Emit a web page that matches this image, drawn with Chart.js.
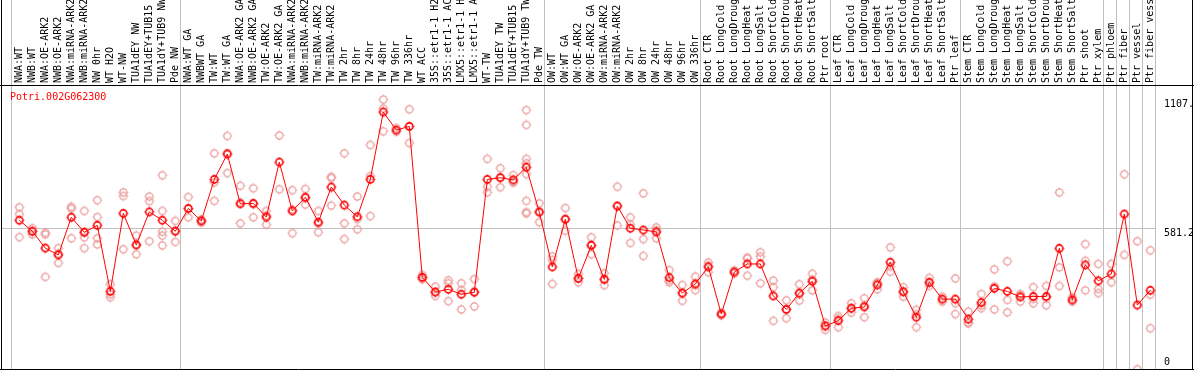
<!DOCTYPE html>
<html>
<head>
<meta charset="utf-8">
<script src="https://cdn.jsdelivr.net/npm/chart.js@4"></script>
<style>
  body { margin: 0; background: #fff; }
  canvas { display: block; }
</style>
</head>
<body>
<canvas id="exprChart" width="1194" height="370"></canvas>
<script>
// Gene shown in the chart
const geneName = 'Potri.002G062300';

// Sample names, in plot order
const categories = [
  'NWA:WT', 'NWB:WT', 'NWA:OE-ARK2', 'NWB:OE-ARK2', 'NWA:miRNA-ARK2', 'NWB:miRNA-ARK2',
  'NW 0hr', 'WT H2O', 'WT-NW', 'TUA1dEY NW', 'TUA1dEY+TUB15 NW', 'TUA1dY+TUB9 NW', 'Pde NW',
  'NWA:WT GA', 'NWBWT GA', 'TW:WT', 'TW:WT GA', 'NWA:OE-ARK2 GA', 'NWB:OE-ARK2 GA',
  'TW:OE-ARK2', 'TW:OE-ARK2 GA', 'NWA:miRNA-ARK2 GA', 'NWB:miRNA-ARK2 GA', 'TW:miRNA-ARK2',
  'TW:miRNA-ARK2 GA', 'TW 2hr', 'TW 8hr', 'TW 24hr', 'TW 48hr', 'TW 96hr', 'TW 336hr',
  'WT ACC', '35S::etr1-1 H2O', '35S::etr1-1 ACC', 'LMX5::etr1-1 H2O', 'LMX5::etr1-1 ACC',
  'WT-TW', 'TUA1dEY TW', 'TUA1dEY+TUB15 TW', 'TUA1dY+TUB9 TW', 'Pde TW',
  'OW:WT', 'OW:WT GA', 'OW:OE-ARK2', 'OW:OE-ARK2 GA', 'OW:miRNA-ARK2', 'OW:miRNA-ARK2 GA',
  'OW 2hr', 'OW 8hr', 'OW 24hr', 'OW 48hr', 'OW 96hr', 'OW 336hr',
  'Root CTR', 'Root LongCold', 'Root LongDrought', 'Root LongHeat', 'Root LongSalt',
  'Root ShortCold', 'Root ShortDrought', 'Root ShortHeat', 'Root ShortSalt', 'Ptr root',
  'Leaf CTR', 'Leaf LongCold', 'Leaf LongDrought', 'Leaf LongHeat', 'Leaf LongSalt',
  'Leaf ShortCold', 'Leaf ShortDrought', 'Leaf ShortHeat', 'Leaf ShortSalt', 'Ptr leaf',
  'Stem CTR', 'Stem LongCold', 'Stem LongDrought', 'Stem LongHeat', 'Stem LongSalt',
  'Stem ShortCold', 'Stem ShortDrought', 'Stem ShortHeat', 'Stem ShortSalt', 'Ptr shoot',
  'Ptr xylem', 'Ptr phloem', 'Ptr fiber', 'Ptr vessel', 'Ptr fiber vessel'
];

// Index of the first sample of each group (last entry = end)
const groupStarts = [0, 13, 41, 53, 63, 73, 84, 85, 86, 87, 88];

// Mean expression per sample
const meanValues = [
  613, 568, 499, 471, 625, 564, 592, 322, 641, 512, 647, 613, 568,
  661, 610, 780, 884, 680, 682, 626, 851, 651, 707, 605, 749, 675, 627, 780, 1056, 982, 997,
  379, 319, 330, 310, 318, 780, 787, 778, 830, 646,
  422, 617, 375, 510, 371, 671, 580, 573, 565, 378, 315, 352,
  422, 229, 401, 434, 434, 303, 248, 315, 363, 180,
  202, 253, 258, 348, 441, 320, 216, 359, 290, 290,
  208, 276, 334, 322, 299, 301, 301, 498, 287, 430, 365,
  393, 638, 266, 326
];

// Individual replicate values per sample
const replicateValues = [
  [666, 638, 544], [580, 567, 555], [555, 562, 381], [499, 438, 476], [668, 661, 539],
  [651, 543, 499, 563], [695, 626, 539, 514], [351, 310, 298], [727, 712, 494], [550, 474, 512],
  [710, 691, 527], [797, 651, 566, 550, 510], [610, 524, 570],
  [708, 625, 661], [613, 603, 615], [887, 767, 692], [958, 806, 888], [754, 600, 686],
  [744, 625, 678], [651, 595, 632], [960, 740], [736, 560, 657], [741, 677, 703],
  [651, 564, 600], [786, 790, 673], [887, 600, 536], [710, 618, 576], [921, 794, 630],
  [1107, 1071, 977], [990, 975], [1067, 997, 929], [389, 371, 378], [341, 303, 319],
  [367, 355, 282], [355, 327, 248], [372, 260, 322], [864, 750, 727], [826, 748, 788],
  [798, 767, 770], [1064, 1003, 864, 846, 802, 692, 646, 641], [682, 605, 650],
  [450, 352, 465], [663, 570, 618], [393, 359, 375], [543, 474, 512], [396, 347, 370],
  [750, 592, 671], [625, 520, 595], [723, 536, 467], [584, 539, 572], [409, 359, 366],
  [348, 283, 314], [382, 327, 347],
  [427, 440, 400], [234, 224], [408, 395], [457, 386, 459], [482, 464, 355],
  [366, 339, 201], [285, 212, 248], [351, 284, 310], [394, 370, 326], [194, 164, 182],
  [221, 175, 210], [273, 235, 251], [294, 216, 264], [359, 330, 355], [502, 423, 402],
  [339, 300, 321], [246, 175, 227], [377, 344, 356], [300, 280], [375, 273, 229],
  [239, 191, 194], [311, 253, 264], [412, 248, 342], [445, 287, 236], [311, 280, 306],
  [339, 273, 291], [344, 265, 294], [727, 420, 344], [298, 280], [515, 447, 326],
  [434, 332, 315], [434, 359], [801, 471], [527, 3], [490, 308, 171]
];

// Values marked on the right side
const yTickValues = [0, 581.2, 1107.3];
const yMax = 1166.5;

const monoFont = '10px "DejaVu Sans Mono", monospace';

// Small ring marker with tiny stubs, like the original plot
function makeMarker(color, lineWidth) {
  const c = document.createElement('canvas');
  c.width = 11;
  c.height = 11;
  const g = c.getContext('2d');
  g.strokeStyle = color;
  g.lineWidth = lineWidth;
  g.beginPath();
  g.arc(5.5, 5.5, 3.6, 0, Math.PI * 2);
  g.stroke();
  g.lineWidth = 1;
  g.beginPath();
  g.moveTo(5.5, 0.6); g.lineTo(5.5, 1.6);
  g.moveTo(5.5, 9.4); g.lineTo(5.5, 10.4);
  g.moveTo(0.6, 5.5); g.lineTo(1.6, 5.5);
  g.moveTo(9.4, 5.5); g.lineTo(10.4, 5.5);
  g.stroke();
  return c;
}

// Flatten replicates into points on the category axis
const replicatePoints = [];
replicateValues.forEach((reps, i) => {
  reps.forEach(v => replicatePoints.push({ x: categories[i], y: v }));
});

// Separators, header labels, title and frame
const decorPlugin = {
  id: 'decor',
  beforeDatasetsDraw(chart) {
    const ctx = chart.ctx;
    const xs = chart.scales.x;
    const ys = chart.scales.y;
    const band = (chart.chartArea.right - chart.chartArea.left) / categories.length;
    const sepX = i => Math.round(xs.getPixelForValue(0) + (i - 0.5) * band - 1.8) + 0.5;
    ctx.save();
    ctx.strokeStyle = '#c0c0c0';
    ctx.lineWidth = 1;
    groupStarts.forEach(i => {
      const x = sepX(i);
      ctx.beginPath();
      ctx.moveTo(x, 0);
      ctx.lineTo(x, chart.height);
      ctx.stroke();
    });
    // reference line at the middle tick
    const gy = Math.round(ys.getPixelForValue(yTickValues[1])) + 0.5;
    ctx.beginPath();
    ctx.moveTo(1, gy);
    ctx.lineTo(sepX(categories.length), gy);
    ctx.stroke();

    // sample names, written bottom to top above the plot
    ctx.fillStyle = '#000';
    ctx.font = monoFont;
    ctx.textAlign = 'left';
    ctx.textBaseline = 'middle';
    categories.forEach((name, i) => {
      ctx.save();
      ctx.translate(xs.getPixelForValue(i) + 0.5, 83);
      ctx.rotate(-Math.PI / 2);
      ctx.fillText(name, 0, 0);
      ctx.restore();
    });

    // gene name
    ctx.fillStyle = '#ff0000';
    ctx.textBaseline = 'middle';
    ctx.fillText(geneName, 10, 97);
    ctx.restore();
  },
  afterDraw(chart) {
    const ctx = chart.ctx;
    const ys = chart.scales.y;
    ctx.save();
    // value labels on the right
    ctx.beginPath();
    ctx.rect(0, 0, 1192, chart.height);
    ctx.clip();
    ctx.fillStyle = '#000';
    ctx.font = monoFont;
    ctx.textAlign = 'left';
    ctx.textBaseline = 'middle';
    yTickValues.forEach(v => {
      let y = ys.getPixelForValue(v) + 5;
      y = Math.min(y, chart.chartArea.bottom - 8);
      const txt = v === 0 ? '0' : v.toFixed(1);
      ctx.fillText(txt, 1164, y);
    });
    ctx.restore();

    // black frame
    ctx.save();
    ctx.strokeStyle = '#000';
    ctx.lineWidth = 1;
    ctx.beginPath();
    ctx.moveTo(1.5, 0); ctx.lineTo(1.5, chart.height);
    ctx.moveTo(1192.5, 0); ctx.lineTo(1192.5, chart.height);
    ctx.moveTo(0, 85.5); ctx.lineTo(chart.width, 85.5);
    ctx.moveTo(0, 369.5); ctx.lineTo(chart.width, 369.5);
    ctx.stroke();
    ctx.restore();
  }
};

const ctx = document.getElementById('exprChart').getContext('2d');
new Chart(ctx, {
  type: 'line',
  data: {
    labels: categories,
    datasets: [
      {
        label: 'mean',
        data: meanValues,
        borderColor: '#ff0000',
        borderWidth: 1,
        pointStyle: makeMarker('#ff0000', 1.6),
        pointRadius: 5,
        tension: 0,
        clip: false
      },
      {
        label: 'replicates',
        data: replicatePoints,
        showLine: false,
        pointStyle: makeMarker('#eb9a9a', 1.2),
        pointRadius: 5,
        clip: false
      }
    ]
  },
  options: {
    responsive: false,
    animation: false,
    events: [],
    layout: {
      autoPadding: false,
      padding: { left: 12.8, right: 37.2, top: 85, bottom: 0 }
    },
    plugins: {
      legend: { display: false },
      tooltip: { enabled: false }
    },
    scales: {
      x: { type: 'category', display: false, offset: true },
      y: { display: false, min: 0, max: yMax }
    }
  },
  plugins: [decorPlugin]
});
</script>
</body>
</html>
